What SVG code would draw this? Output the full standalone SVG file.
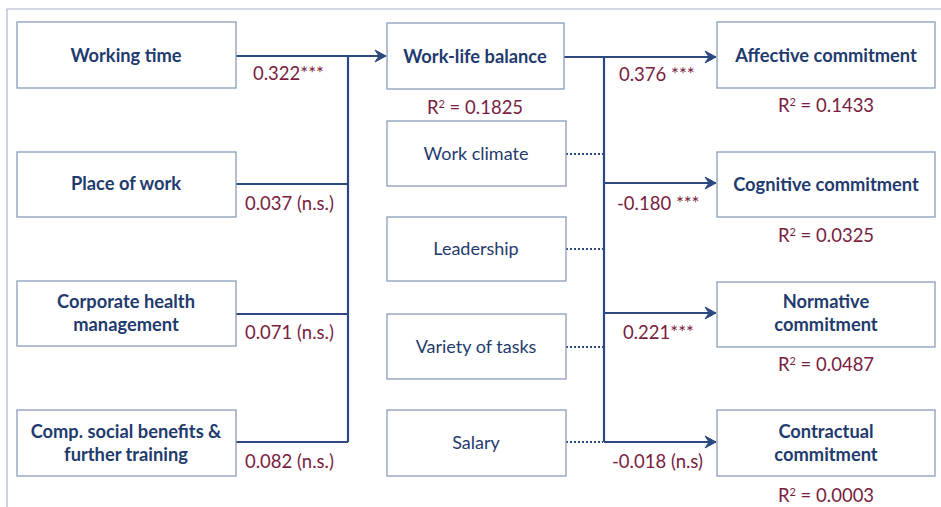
<svg xmlns="http://www.w3.org/2000/svg" width="941" height="507" viewBox="0 0 941 507">
<defs>
<marker id="arr" markerUnits="userSpaceOnUse" markerWidth="16" markerHeight="16" viewBox="0 0 16 16" refX="14" refY="8" orient="auto">
<path d="M3,2 L14,8 L3,14 L7,8 Z" fill="#2c4a80" stroke="#2c4a80" stroke-width="1" stroke-linejoin="round"/>
</marker>
</defs>
<style>
.box{fill:#fff;stroke:#8a9cbc;stroke-width:1.3}
.b{font-family:Lato,"Open Sans",sans-serif;font-weight:bold;font-size:18.3px;fill:#1f3b6e;text-anchor:middle}
.n{font-family:Lato,"Open Sans",sans-serif;font-size:18px;fill:#1f3b6e;text-anchor:middle}
.r{font-family:Lato,"Open Sans",sans-serif;font-size:18.5px;fill:#7a1d3f}
.rm{text-anchor:middle}
.ln{fill:none;stroke:#2c4a80;stroke-width:2.2}
.dt{fill:none;stroke:#2c4a80;stroke-width:2.2;stroke-dasharray:2 2}
</style>
<path d="M7,507 L7,9 L941,9" fill="none" stroke="#a9b8cf" stroke-width="1.2"/>
<g id="connectors">
<path class="ln" d="M236,56 L348,56"/>
<path class="ln" d="M348,56 L386,56" marker-end="url(#arr)"/>
<path class="ln" d="M348,56 L348,442"/>
<path class="ln" d="M236,184 L348,184"/>
<path class="ln" d="M236,314 L348,314"/>
<path class="ln" d="M236,442 L348,442"/>
<path class="ln" d="M564,57 L604,57 L604,442"/>
<path class="ln" d="M604,57 L716,57" marker-end="url(#arr)"/>
<path class="ln" d="M604,183 L716,183" marker-end="url(#arr)"/>
<path class="ln" d="M604,313 L716,313" marker-end="url(#arr)"/>
<path class="ln" d="M604,442 L716,442" marker-end="url(#arr)"/>
<path class="dt" d="M566,154 L603,154"/>
<path class="dt" d="M566,249 L603,249"/>
<path class="dt" d="M566,347 L603,347"/>
<path class="dt" d="M566,442 L603,442"/>
<text class="r" x="253" y="80">0.322***</text>
<text class="r" x="245" y="210">0.037 (n.s.)</text>
<text class="r" x="245" y="339">0.071 (n.s.)</text>
<text class="r" x="245" y="468">0.082 (n.s.)</text>
<text class="r" x="619" y="81">0.376 ***</text>
<text class="r" x="617" y="210">-0.180 ***</text>
<text class="r" x="623" y="339">0.221***</text>
<text class="r" x="612" y="468">-0.018 (n.s)</text>
</g>
<g id="working-time"><rect class="box" x="17" y="22" width="219" height="66"/><text class="b" x="126" y="62">Working time</text></g>
<g id="place-of-work"><rect class="box" x="17" y="152" width="219" height="65"/><text class="b" x="126" y="190">Place of work</text></g>
<g id="corporate-health"><rect class="box" x="17" y="281" width="219" height="65"/><text class="b" x="126" y="308">Corporate health</text><text class="b" x="126" y="331">management</text></g>
<g id="comp-social"><rect class="box" x="17" y="410" width="219" height="66"/><text class="b" x="126" y="438">Comp. social benefits &amp;</text><text class="b" x="126" y="461">further training</text></g>
<g id="work-life-balance"><rect class="box" x="387" y="23" width="177" height="66"/><text class="b" x="475" y="63">Work-life balance</text><text class="r rm" x="475" y="114">R<tspan dy="-6" font-size="11">2</tspan><tspan dy="6"> = 0.1825</tspan></text></g>
<g id="work-climate"><rect class="box" x="387" y="121" width="179" height="65"/><text class="n" x="476" y="160">Work climate</text></g>
<g id="leadership"><rect class="box" x="387" y="217" width="179" height="64"/><text class="n" x="476" y="255">Leadership</text></g>
<g id="variety"><rect class="box" x="387" y="314" width="179" height="65"/><text class="n" x="476" y="353">Variety of tasks</text></g>
<g id="salary"><rect class="box" x="387" y="410" width="179" height="66"/><text class="n" x="476" y="449">Salary</text></g>
<g id="affective"><rect class="box" x="717" y="22" width="218" height="66"/><text class="b" x="826" y="62">Affective commitment</text><text class="r rm" x="826" y="112">R<tspan dy="-6" font-size="11">2</tspan><tspan dy="6"> = 0.1433</tspan></text></g>
<g id="cognitive"><rect class="box" x="717" y="152" width="218" height="65"/><text class="b" x="826" y="191">Cognitive commitment</text><text class="r rm" x="826" y="242">R<tspan dy="-6" font-size="11">2</tspan><tspan dy="6"> = 0.0325</tspan></text></g>
<g id="normative"><rect class="box" x="717" y="282" width="218" height="65"/><text class="b" x="826" y="308">Normative</text><text class="b" x="826" y="331">commitment</text><text class="r rm" x="826" y="371">R<tspan dy="-6" font-size="11">2</tspan><tspan dy="6"> = 0.0487</tspan></text></g>
<g id="contractual"><rect class="box" x="717" y="410" width="218" height="66"/><text class="b" x="826" y="438">Contractual</text><text class="b" x="826" y="461">commitment</text><text class="r rm" x="826" y="502">R<tspan dy="-6" font-size="11">2</tspan><tspan dy="6"> = 0.0003</tspan></text></g>
</svg>
